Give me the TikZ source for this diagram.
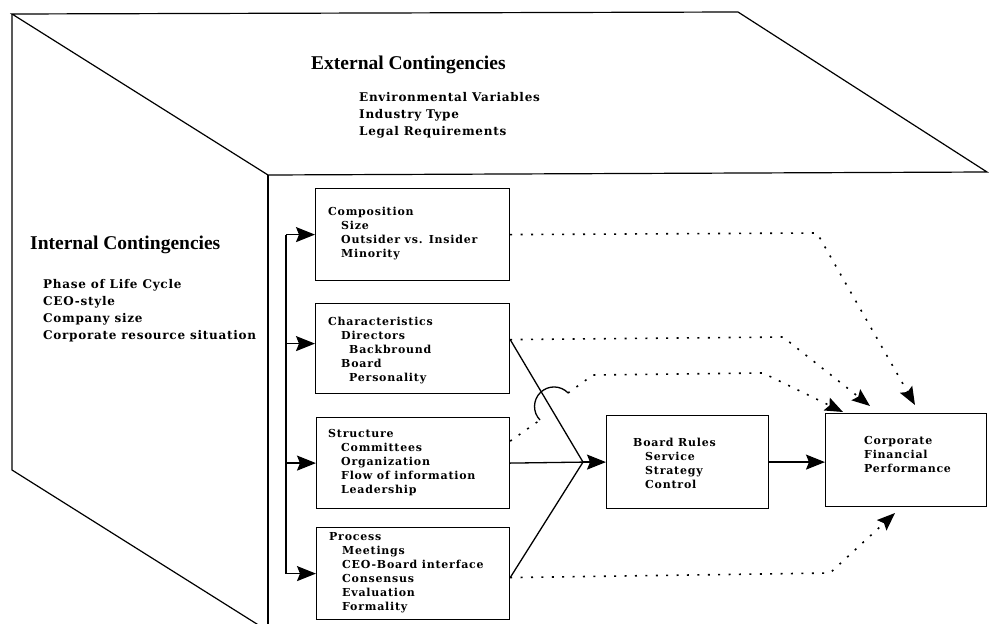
\documentclass[tikz,border=0pt]{standalone}
\usepackage{fontspec}
\setmainfont{Liberation Serif}
\newfontfamily\itemfont[LetterSpace=7]{DejaVu Serif}
\newfontfamily\listfont[LetterSpace=6]{DejaVu Serif}
\usetikzlibrary{arrows.meta}

\begin{document}
\begin{tikzpicture}[x=1pt,y=-1pt,
  frame/.style={line width=1.2pt, line join=miter},
  edge/.style={line width=1.3pt},
  box/.style={draw, line width=1.2pt, rectangle, inner sep=0pt, anchor=north west},
  head/.style={-{Stealth[length=19pt,width=15pt,inset=3pt]}},
  dots/.style={line width=1.6pt, dash pattern=on 2pt off 8.4pt},
  dothead/.style={-{Stealth[length=18pt,width=14pt,inset=3pt]}},
  heading/.style={font=\fontsize{19.5}{22}\selectfont\bfseries, inner sep=0pt, anchor=west},
  biglist/.style={font=\listfont\bfseries\fontsize{12}{17}\selectfont, align=left, inner sep=0pt, anchor=north west},
  boxtext/.style={font=\itemfont\bfseries\fontsize{11}{14}\selectfont, align=left, inner sep=0pt, anchor=north west},
]
\useasboundingbox (0,0) rectangle (989,624);
\clip (0,0) rectangle (989,624);

% the open box: top face and left face
\draw[frame] (12,14) -- (738,12) -- (987,172) -- (268,175) -- cycle;
\draw[frame] (12,14) -- (12,470) -- (268,631);
\draw[frame] (268,175) -- (268,640);

% external contingencies
\node[heading] (ext) at (311,65) {External Contingencies};
\node[biglist] (extlist) at (359,92) {Environmental Variables\\Industry Type\\Legal Requirements};

% internal contingencies
\node[heading] (int) at (30,245) {Internal Contingencies};
\node[biglist] (intlist) at (43,279) {Phase of Life Cycle\\CEO-style\\Company size\\Corporate resource situation};

% board boxes
\node[box, minimum width=194pt, minimum height=92pt] (comp) at (315,188) {};
\node[box, minimum width=194pt, minimum height=90pt] (char) at (315,303) {};
\node[box, minimum width=193pt, minimum height=91pt] (struc) at (316,417) {};
\node[box, minimum width=193pt, minimum height=92pt] (proc) at (316,527) {};
\node[box, minimum width=162pt, minimum height=93pt] (rules) at (606,415) {};
\node[box, minimum width=161pt, minimum height=93pt] (perf) at (825,413) {};

\node[boxtext] (compt) at (328,207) {Composition\\\hspace*{13pt}Size\\\hspace*{13pt}Outsider vs. Insider\\\hspace*{13pt}Minority};
\node[boxtext] (chart) at (328,317) {Characteristics\\\hspace*{13pt}Directors\\\hspace*{21pt}Backbround\\\hspace*{13pt}Board\\\hspace*{21pt}Personality};
\node[boxtext] (struct) at (328,429) {Structure\\\hspace*{13pt}Committees\\\hspace*{13pt}Organization\\\hspace*{13pt}Flow of information\\\hspace*{13pt}Leadership};
\node[boxtext] (proct) at (329,532) {Process\\\hspace*{13pt}Meetings\\\hspace*{13pt}CEO-Board interface\\\hspace*{13pt}Consensus\\\hspace*{13pt}Evaluation\\\hspace*{13pt}Formality};
\node[boxtext] (rulest) at (633,438) {Board Rules\\\hspace*{12pt}Service\\\hspace*{12pt}Strategy\\\hspace*{12pt}Control};
\node[boxtext] (perft) at (864,436) {Corporate\\Financial\\Performance};

% bracket feeding the four boxes
\coordinate (bx) at (286,0);
\draw[edge] (bx |- comp.west) -- (bx |- proc.west);
\draw[edge,head] (bx |- comp.west) -- (comp.west);
\draw[edge,head] ([yshift=5pt]bx |- char.west) -- ([yshift=5pt]char.west);
\draw[edge,head] (bx |- struc.west) -- (struc.west);
\draw[edge,head] (bx |- proc.west) -- (proc.west);

% solid lines converging on board rules
\coordinate (meet) at (583,0);
\draw[edge] ([yshift=9pt]char.east) -- (meet |- rules.west);
\draw[edge] (struc.east) -- (meet |- rules.west);
\draw[edge] ([yshift=-4pt]proc.east) -- (meet |- rules.west);
\draw[edge,head] (meet |- rules.west) -- (rules.west);
\draw[edge,head] (rules.east) -- (rules.east -| perf.west);

% dotted influences on performance
\coordinate (tipA) at (915,405);
\coordinate (tipB) at (870,406);
\coordinate (tipC) at (843,412);
\coordinate (tipD) at (895,513);
\draw[dots,dothead] (comp.east) -- (817,233) -- (tipA);
\draw[dots,dothead] ([yshift=9pt]char.east) -- (783,337) -- (tipB);
\coordinate (jumpin) at (540,420);
\coordinate (jumpout) at (568,393);
\draw[dots] ([yshift=22pt]struc.east) -- (jumpin);
\draw[edge] (jumpin) arc[start angle=224, end angle=44, radius=19.5pt];
\draw[dots,dothead] (jumpout) -- (593,375) -- (763,373) -- (tipC);
\draw[dots,dothead] ([yshift=-4pt]proc.east) -- (830,573) -- (tipD);
\end{tikzpicture}
\end{document}
